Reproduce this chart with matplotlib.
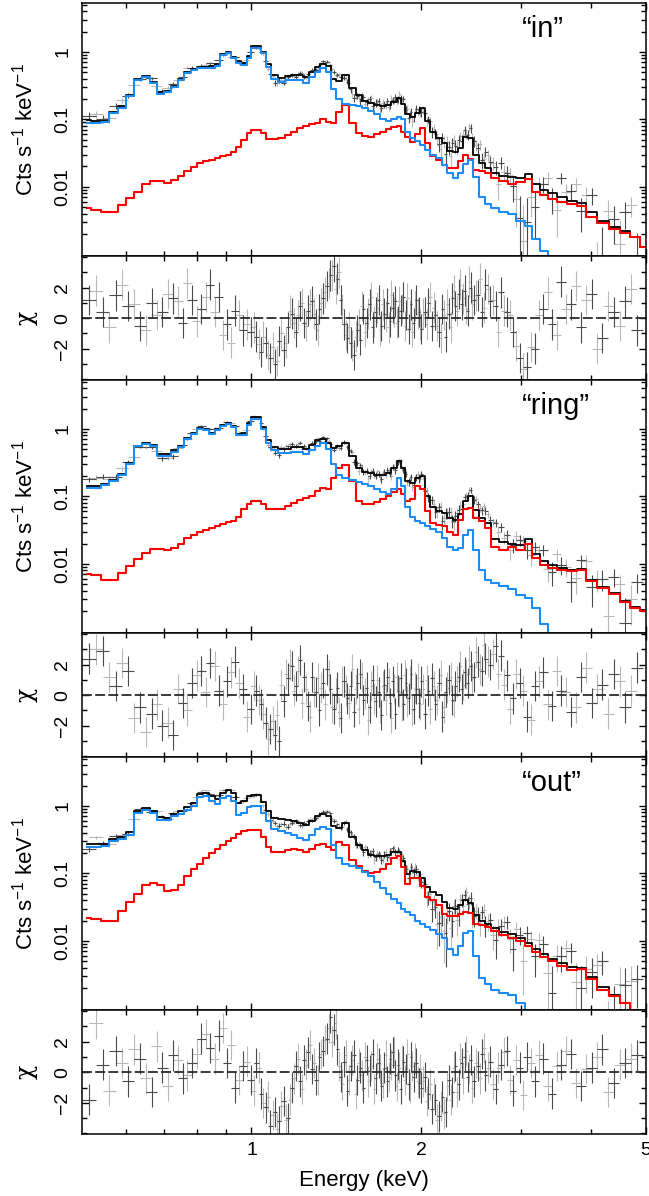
import numpy as np
import matplotlib
matplotlib.use('Agg')
import matplotlib.pyplot as plt
from matplotlib.ticker import FixedLocator, NullFormatter, LogLocator, MultipleLocator

plt.rcParams['font.family'] = ['Liberation Sans', 'DejaVu Sans']
plt.rcParams['mathtext.fontset'] = 'custom'
plt.rcParams['mathtext.rm'] = 'Liberation Sans'

# model grid (keV) (cts/s/keV)
E_MOD = [0.51, 0.53, 0.55, 0.57, 0.59, 0.61, 0.63, 0.65, 0.67, 0.69,
         0.71, 0.73, 0.75, 0.77, 0.79, 0.81, 0.83, 0.85, 0.87, 0.89,
         0.91, 0.93, 0.95, 0.97, 0.99, 1.01, 1.03, 1.05, 1.07, 1.10,
         1.13, 1.16, 1.19, 1.22, 1.25, 1.28, 1.31, 1.34, 1.37, 1.40,
         1.43, 1.47, 1.51, 1.55, 1.59, 1.63, 1.67, 1.71, 1.75, 1.79,
         1.83, 1.86, 1.89, 1.93, 1.97, 2.01, 2.05, 2.10, 2.15, 2.20,
         2.25, 2.30, 2.35, 2.40, 2.45, 2.50, 2.56, 2.62, 2.70, 2.80,
         2.90, 3.00, 3.10, 3.20, 3.30, 3.40, 3.55, 3.70, 3.85, 4.00,
         4.20, 4.40, 4.60, 4.80, 4.98]

# "in"
in_blue = [.089, .089, .090, .125, .148, .22, .38, .43, .35, .24,
           .25, .30, .38, .49, .54, .58, .58, .58, .62, .90,
           .97, .81, .68, .64, .81, 1.15, 1.15, .95, .60, .40,
           .36, .38, .385, .385, .35, .42, .50, .57, .50, .28,
           .20, .17, .164, .155, .145, .135, .12, .10, .095, .10,
           .109, .10, .065, .052, .047, .042, .035, .030, .027, .021,
           .016, .0135, .016, .022, .025, .014, .007, .0055, .0048, .0043,
           .0039, .0031, .0026, .0017, .0011, .0007, .0005, .0004, .0003, .0003,
           .0002, .0002, .0002, .0001, .0001]
in_red = [.0049, .0046, .0042, .0042, .0054, .0069, .0085, .011, .0123, .0123,
          .0114, .0126, .0146, .0173, .0198, .0226, .024, .025, .027, .029,
          .030, .033, .039, .050, .063, .070, .070, .063, .051, .051,
          .053, .059, .066, .075, .080, .085, .089, .10, .092, .089,
          .129, .164, .089, .063, .057, .055, .060, .065, .072, .077,
          .080, .065, .055, .046, .060, .075, .045, .029, .025, .021,
          .019, .019, .024, .030, .026, .018, .017, .016, .0135, .012,
          .011, .0118, .013, .0085, .0075, .0066, .0060, .0055, .0052, .0036,
          .0029, .0024, .0021, .0018, .0013]
in_tot = [.097, .095, .096, .13, .155, .23, .40, .44, .36, .255,
          .26, .315, .40, .51, .56, .60, .60, .61, .65, .93,
          1.0, .84, .72, .69, .87, 1.22, 1.22, 1.01, .65, .45,
          .41, .44, .45, .46, .43, .50, .59, .67, .61, .40,
          .37, .45, .29, .23, .19, .175, .165, .158, .165, .18,
          .21, .17, .12, .11, .125, .145, .095, .065, .052, .044,
          .034, .033, .037, .055, .053, .03, .0226, .019, .016, .0145,
          .014, .0135, .0155, .011, .009, .008, .0071, .0062, .0058, .0042,
          .0031, .0025, .0022, .0018, .0013]

# "ring"
ring_blue = [.134, .134, .146, .168, .21, .30, .55, .59, .55, .40,
             .40, .46, .53, .72, .85, 1.0, .97, .85, .95, 1.12,
             1.18, 1.05, .80, .80, 1.15, 1.42, 1.40, 1.0, .62, .48,
             .44, .44, .46, .45, .42, .48, .56, .62, .50, .30,
             .21, .19, .175, .165, .155, .14, .13, .115, .11, .13,
             .19, .14, .07, .05, .043, .040, .036, .033, .030, .024,
             .018, .016, .017, .027, .032, .016, .008, .0058, .0052, .0047,
             .0042, .0035, .0031, .0022, .0013, .0009, .0006, .0004, .0003, .0003,
             .0002, .0002, .0002, .0001, .0001]
ring_red = [.007, .0068, .0057, .0057, .0074, .0093, .0116, .0145, .0167, .0165,
            .016, .017, .0194, .024, .027, .030, .032, .034, .036, .039,
            .041, .043, .050, .064, .077, .085, .085, .077, .066, .064,
            .066, .072, .080, .088, .093, .10, .12, .134, .127, .19,
            .26, .29, .17, .085, .076, .076, .082, .09, .10, .115,
            .13, .11, .085, .09, .14, .13, .06, .04, .037, .036,
            .03, .027, .045, .065, .068, .047, .043, .034, .018, .016,
            .018, .016, .02, .012, .0095, .0088, .0082, .0078, .008, .0055,
            .0044, .0036, .0027, .0022, .002]
ring_tot = [.14, .14, .152, .175, .218, .31, .56, .61, .57, .42,
            .42, .48, .55, .74, .88, 1.03, 1.0, .88, .99, 1.16,
            1.22, 1.09, .85, .86, 1.23, 1.5, 1.48, 1.08, .69, .54,
            .51, .51, .54, .54, .51, .58, .68, .72, .62, .52,
            .56, .62, .40, .26, .23, .22, .21, .21, .22, .26,
            .33, .26, .17, .16, .19, .20, .10, .07, .06, .056,
            .047, .045, .055, .085, .10, .062, .048, .04, .023, .021,
            .02, .019, .023, .014, .011, .0097, .0088, .0081, .0083, .0057,
            .0045, .0037, .0028, .0023, .0021]

# "out"
out_blue = [.244, .25, .255, .30, .32, .37, .78, .87, .78, .62,
            .61, .70, .77, .87, 1.0, 1.35, 1.4, 1.2, 1.05, 1.3,
            1.4, 1.2, .74, .78, .95, 1.0, 1.0, .78, .59, .45,
            .42, .39, .37, .33, .31, .37, .45, .49, .46, .26,
            .17, .14, .13, .12, .105, .09, .075, .06, .05, .042,
            .036, .03, .027, .024, .02, .018, .016, .0146, .0125, .011,
            .0075, .0062, .0085, .013, .0138, .006, .0028, .0023, .0019, .0017,
            .0016, .0012, .0008, .0006, .0005, .0004, .0003, .0003, .0002, .0002,
            .0002, .0001, .0001, .0001, .0001]
out_red = [.022, .021, .0198, .020, .028, .038, .05, .067, .073, .067,
           .054, .056, .068, .09, .115, .14, .17, .20, .23, .26,
           .30, .33, .385, .42, .44, .44, .44, .35, .25, .21,
           .21, .22, .23, .22, .21, .23, .26, .27, .25, .22,
           .29, .26, .16, .13, .11, .10, .105, .115, .14, .17,
           .18, .125, .07, .085, .085, .065, .045, .04, .034, .025,
           .023, .023, .025, .027, .026, .018, .017, .016, .014, .012,
           .011, .0098, .0085, .0068, .0058, .005, .0043, .0037, .0038, .0027,
           .0019, .0015, .0012, .0009, .0007]
out_tot = [.27, .27, .275, .32, .35, .41, .83, .94, .85, .69,
           .66, .76, .84, .96, 1.12, 1.5, 1.57, 1.4, 1.28, 1.56,
           1.7, 1.53, 1.12, 1.2, 1.39, 1.45, 1.45, 1.13, .84, .66,
           .63, .61, .60, .55, .52, .60, .71, .76, .71, .50,
           .47, .55, .35, .26, .22, .19, .18, .18, .19, .21,
           .21, .155, .097, .11, .105, .085, .062, .053, .047, .038,
           .031, .03, .034, .04, .036, .024, .0195, .018, .0156, .0137,
           .0126, .011, .0093, .0075, .0063, .0054, .0047, .0041, .004, .0029,
           .0021, .0016, .0012, .0009, .0007]

# data bin centres (keV) of the two instruments
E_DARK = [0.515, 0.545, 0.575, 0.605, 0.635, 0.665, 0.695, 0.725, 0.755, 0.785, 0.815, 0.845, 0.875, 0.905, 0.935, 0.965,
          1.00, 1.02, 1.04, 1.06, 1.08, 1.10, 1.12, 1.14, 1.16, 1.18, 1.20, 1.22, 1.24, 1.26, 1.28, 1.30, 1.32, 1.34, 1.36, 1.38, 1.40, 1.42, 1.44, 1.46, 1.48,
          1.50, 1.52, 1.54, 1.56, 1.58, 1.60, 1.62, 1.64, 1.66, 1.68, 1.70, 1.72, 1.74, 1.76, 1.78, 1.80, 1.82, 1.84, 1.86, 1.88, 1.90, 1.92, 1.94, 1.96, 1.98,
          2.00, 2.03, 2.06, 2.09, 2.12, 2.15, 2.18, 2.21, 2.24, 2.27, 2.30, 2.33, 2.36, 2.39, 2.42, 2.45, 2.48, 2.52, 2.56, 2.60,
          2.65, 2.71, 2.77, 2.84, 2.91, 2.99, 3.08, 3.18, 3.29, 3.41, 3.54, 3.68, 3.84, 4.01, 4.19, 4.39, 4.60, 4.83]
E_LIGHT = [0.53, 0.56, 0.59, 0.62, 0.65, 0.68, 0.71, 0.74, 0.77, 0.80, 0.83, 0.86, 0.89, 0.92, 0.95, 0.98,
           1.01, 1.03, 1.05, 1.07, 1.09, 1.11, 1.13, 1.15, 1.17, 1.19, 1.21, 1.23, 1.25, 1.27, 1.29, 1.31, 1.33, 1.35, 1.37, 1.39, 1.41, 1.43, 1.45, 1.47, 1.49,
           1.51, 1.53, 1.55, 1.57, 1.59, 1.61, 1.63, 1.65, 1.67, 1.69, 1.71, 1.73, 1.75, 1.77, 1.79, 1.81, 1.83, 1.85, 1.87, 1.89, 1.91, 1.93, 1.95, 1.97, 1.99,
           2.015, 2.045, 2.075, 2.105, 2.135, 2.165, 2.195, 2.225, 2.255, 2.285, 2.315, 2.345, 2.375, 2.405, 2.435, 2.465, 2.50, 2.54, 2.58, 2.625,
           2.68, 2.74, 2.805, 2.875, 2.95, 3.035, 3.13, 3.235, 3.35, 3.475, 3.61, 3.76, 3.925, 4.10, 4.29, 4.495, 4.715]

# residuals (chi)
in_chi_dark = [1.2, 0.4, 1.5, 0.8, -0.5, 1.0, 0.4, 1.3, -0.3, 1.2, 0.6, 2.2, 1.4, -0.4, 0.5, -0.8,
               -0.9, -1.2, -2.2, -1.6, -2.6, -3.0, -1.5, -2.1, -0.6, 0.3, -0.9, 0.8, -0.3, 0.5, 1.1, -0.4, 0.6, 1.3, 2.1, 2.8, 3.4, 2.6, 1.2, -0.4, -1.3,
               -1.6, -2.4, -0.8, -1.4, 0.6, -0.3, 0.9, -0.6, 0.4, 1.2, -0.5, 0.3, 1.0, -0.2, 0.7, 1.1, -0.2, 0.5, 1.4, 0.2, -0.7, 0.9, -0.3, 1.2, 0.4,
               -0.7, 0.4, 1.0, -0.5, 0.2, -0.9, 0.6, -1.2, 0.3, 1.3, 0.8, 1.6, 0.9, 1.8, 0.5, 2.0, 1.2, 1.5, 0.4, 2.2,
               1.1, 0.8, 1.7, 0.4, -0.9, -2.6, -3.2, -2.0, 0.6, -0.4, 2.4, 0.9, -0.6, 1.6, -1.3, 0.4, 1.1, -0.8]
in_chi_light = [1.8, -0.6, 2.2, 0.9, -0.8, 0.2, 1.6, 1.1, 2.3, -0.2, 1.4, 0.4, -1.1, -1.6, 0.2, -0.4,
                -0.6, -1.7, -1.2, -2.4, -1.9, -2.8, -1.0, -1.6, 0.5, -0.3, 0.2, 1.0, -0.5, 0.9, 0.3, -0.8, 1.0, 1.7, 2.3, 2.8, 1.9, 3.0, 0.6, -1.1, -0.6,
                -1.8, -1.2, -0.4, 0.8, -0.9, 0.3, 1.4, -0.2, 0.7, -0.8, 0.9, 0.1, -0.6, 1.5, 0.4, -0.3, 1.1, 0.6, -0.5, 1.3, 0.2, -0.9, 0.8, 0.3, -0.4,
                0.3, -0.4, 1.4, 0.7, -0.5, -1.3, 0.2, 0.9, -0.6, 1.8, 0.5, 2.2, 1.3, 0.6, 2.4, 0.9, 1.5, 2.6, 0.7, 1.9,
                1.2, -0.9, 0.5, 0.2, -1.8, -3.3, -1.9, 0.2, 1.7, -1.1, 0.6, 2.1, 1.2, -2.0, 0.8, -0.5, 1.9]
ring_chi_dark = [2.4, 2.9, 0.6, 1.6, -0.8, -1.2, -2.0, -2.6, -0.5, 0.8, 1.6, 2.1, 0.3, 0.9, 2.2, 0.4,
                 -0.9, 0.3, -0.6, -1.8, -2.2, -2.6, -3.0, -0.4, 1.1, 1.9, 0.6, 2.3, 1.2, -0.7, 1.2, 0.2, -1.0, 0.8, 1.7, 0.4, -0.9, 0.5, -1.5, 0.9, -0.2,
                 0.6, -1.1, 0.8, 1.4, -0.3, 0.5, -0.8, 1.0, -0.4, 0.2, -1.3, 0.7, 1.2, -0.5, 0.9, -1.2, 0.3, 1.1, -0.6, 0.8, -0.2, 1.4, -0.9, 0.4, -0.5,
                 0.9, -1.2, 0.3, 1.1, -0.6, 0.8, -1.4, 0.2, 1.0, -0.3, 0.6, 1.2, 0.4, 1.5, 0.8, 1.9, 1.2, 2.2, 1.6, 2.4,
                 2.0, 3.2, 2.6, 1.3, -0.2, 0.8, -1.4, 0.6, 1.5, -0.7, 0.3, -1.1, 1.2, -0.5, 0.7, 1.4, -0.8, 1.8]
ring_chi_light = [3.0, 1.2, 2.1, -1.5, -2.4, -0.6, -1.8, 0.4, -1.0, 1.3, 0.2, 1.9, -0.6, 1.5, 0.8, -1.4,
                  0.6, -0.3, -1.2, -2.9, -1.7, -1.3, 0.7, 1.4, 2.0, 0.3, 1.6, -0.5, 0.4, -1.4, 0.2, 1.1, 0.5, -0.6, 1.3, -0.8, 0.1, -1.1, 0.9, 0.3, -0.5,
                  1.7, 0.4, -0.9, 1.2, 0.1, -1.6, 0.6, -0.2, 1.0, -0.8, 0.6, -0.3, 0.8, -1.5, 0.4, 1.2, 0.2, -0.7, 1.3, -0.4, 0.9, -1.0, 0.5, 1.1, -0.6,
                  0.4, 1.0, -0.9, 0.6, -0.3, 1.3, -0.8, 0.5, 1.2, -0.4, 0.9, 1.9, 0.7, 1.4, 2.3, 1.1, 2.8, 1.7, 3.3, 2.2,
                  2.7, 1.4, 0.7, -0.9, 1.4, 0.3, -1.6, 0.9, -0.6, 1.6, 0.2, -0.8, 1.8, 0.4, -1.2, 0.9, 0.3]
out_chi_dark = [-1.8, 0.5, 1.4, -0.6, 0.9, -1.3, 0.3, 1.1, -0.4, 0.6, 2.2, 1.6, 2.4, 0.6, -1.0, 0.4,
                -0.5, 0.6, -1.4, -2.3, -3.5, -2.6, -3.2, -1.9, -3.0, -1.0, 0.4, -0.6, 0.8, 1.3, 0.2, -0.5, 1.0, 1.4, 2.2, 3.6, 2.8, 1.5, -0.3, 0.7, -1.2,
                0.4, 1.1, -0.5, 0.3, -1.0, 0.8, 0.1, 1.2, -0.4, 0.6, -0.9, 0.3, -0.6, 0.9, 1.3, -0.2, 0.5, -1.1, 0.7, 0.2, -0.8, 1.0, -0.3, 0.6, -0.7,
                -1.0, -0.3, -1.4, -2.4, -1.8, -2.9, -1.6, -2.6, -0.5, -1.3, 0.4, -0.8, 0.6, 1.0, -0.3, 0.8, -0.6, 0.4, 1.2, -0.2,
                0.7, -1.1, 0.5, 1.4, -1.2, 0.3, 1.0, -0.6, 0.9, -1.4, 0.5, 1.2, -0.9, 0.3, 1.5, -0.7, 0.6, 1.1]
out_chi_light = [3.2, -1.2, 0.6, 1.5, -0.4, 1.7, -0.9, 0.8, -0.2, 1.2, 2.5, 0.9, 2.9, 1.8, -0.5, 0.7,
                 -1.2, 0.3, -2.0, -1.6, -2.8, -3.7, -2.2, -3.1, -1.8, -0.4, 0.9, -1.1, 0.5, 1.8, 0.6, -0.5, 1.2, 2.1, 2.9, 2.0, 3.2, 0.4, -0.8, 1.1, -0.5,
                 0.8, -1.4, 0.6, -0.2, 1.0, -0.6, 0.4, -1.1, 0.9, 0.2, -0.7, 1.1, -0.3, 0.5, 1.4, -0.9, 0.3, 0.8, -0.5, 1.2, -1.0, 0.4, 0.9, -0.6, 0.2,
                 -0.6, -1.9, -0.8, -1.4, -3.1, -2.2, -2.7, -0.9, -1.8, 0.3, -1.3, 0.9, -0.4, 1.4, 0.2, -1.0, 0.6, -0.4, 1.6, 0.3,
                 -0.8, 0.3, 1.3, -0.5, 0.8, -1.5, 0.6, 1.1, -0.9, 0.4, 1.4, -0.7, 0.2, 1.0, -1.3, 0.5, 0.9]

labels = ['\u201cin\u201d', '\u201cring\u201d', '\u201cout\u201d']
EXPOSURE = 20000.0  # s
BACKGROUND = 0.012  # cts/s/keV, only used for the size of the error bars

DARK = '#4a4a4a'
LIGHT = '#b8b8b8'
BLUE = '#1b8cf5'
RED = '#ff0000'


def bin_edges(e):
    e = np.asarray(e)
    mid = np.sqrt(e[:-1] * e[1:])
    lo = np.r_[e[0] ** 2 / mid[0], mid]
    hi = np.r_[mid, e[-1] ** 2 / mid[-1]]
    return lo, hi


def model_at(e, tot):
    return 10 ** np.interp(np.log10(e), np.log10(E_MOD), np.log10(tot))


def style_x(ax, show_labels):
    ax.set_xscale('log')
    ax.set_xlim(0.5, 5)
    ax.xaxis.set_major_locator(FixedLocator([1, 2, 5]))
    ax.xaxis.set_minor_locator(FixedLocator([0.6, 0.7, 0.8, 0.9, 3, 4]))
    ax.xaxis.set_minor_formatter(NullFormatter())
    if show_labels:
        ax.set_xticklabels(['1', '2', '5'])
    else:
        ax.xaxis.set_major_formatter(NullFormatter())
    ax.tick_params(which='both', direction='in', top=True, right=True, width=1.0,
                   labelsize=14)
    ax.tick_params(which='major', length=5, pad=6)
    ax.tick_params(which='minor', length=3.5)
    ax.tick_params(axis='y', labelrotation=90, pad=7.5)
    for s in ax.spines.values():
        s.set_linewidth(1.1)


fig = plt.figure(figsize=(6.49, 11.96), dpi=100)
gs = fig.add_gridspec(6, 1, height_ratios=[2.05, 1] * 3, hspace=0,
                      left=0.1259, right=0.9948, top=0.9975, bottom=0.0518)

panels = [(in_blue, in_red, in_tot, in_chi_dark, in_chi_light),
          (ring_blue, ring_red, ring_tot, ring_chi_dark, ring_chi_light),
          (out_blue, out_red, out_tot, out_chi_dark, out_chi_light)]

for k, (blue, red, tot, chi_d, chi_l) in enumerate(panels):
    ax = fig.add_subplot(gs[2 * k])
    axr = fig.add_subplot(gs[2 * k + 1])

    for e, chi, col in ((E_LIGHT, chi_l, LIGHT), (E_DARK, chi_d, DARK)):
        e = np.asarray(e)
        chi = np.asarray(chi)
        lo, hi = bin_edges(e)
        m = model_at(e, tot)
        sig = np.sqrt((m + BACKGROUND) / ((hi - lo) * EXPOSURE))
        d = m + chi * sig
        dc = np.clip(d, 1e-6, None)
        ylo = np.clip(d - sig, 1e-6, None)
        yhi = np.clip(d + sig, 1e-6, None)
        ax.errorbar(e, dc, yerr=[dc - ylo, yhi - dc], xerr=[e - lo, hi - e],
                    fmt='none', ecolor=col, elinewidth=0.8)
        axr.errorbar(e, chi, yerr=1.0, xerr=[e - lo, hi - e],
                     fmt='none', ecolor=col, elinewidth=0.8)

    ax.step(E_MOD, tot, where='mid', color='black', lw=1.3)
    ax.step(E_MOD, red, where='mid', color=RED, lw=1.5)
    ax.step(E_MOD, blue, where='mid', color=BLUE, lw=1.5)

    ax.set_yscale('log')
    ax.set_ylim(9.3e-4, 5.3)
    style_x(ax, False)
    ax.yaxis.set_major_locator(FixedLocator([0.01, 0.1, 1]))
    ax.set_yticklabels(['0.01', '0.1', '1'])
    ax.yaxis.set_minor_locator(LogLocator(base=10, subs=np.arange(2, 10), numticks=20))
    ax.yaxis.set_minor_formatter(NullFormatter())
    for t in ax.get_yticklabels():
        t.set_va('center')
    ax.set_ylabel('Cts s$^{-1}$ keV$^{-1}$', fontsize=16)
    ax.yaxis.set_label_coords(-0.078, 0.5)
    ax.text(0.781, 0.897, labels[k], transform=ax.transAxes, fontsize=21,
            ha='left', va='center')

    axr.axhline(0, color='#2a2a2a', lw=1.3, ls=(0, (5.5, 1.8)))
    axr.set_ylim(-4.05, 4.05)
    style_x(axr, k == 2)
    axr.yaxis.set_major_locator(FixedLocator([-2, 0, 2]))
    axr.set_yticklabels(['\u22122', '0', '2'])
    axr.yaxis.set_minor_locator(MultipleLocator(1))
    for t in axr.get_yticklabels():
        t.set_va('center')
    axr.set_ylabel('\u03c7', fontsize=17, family='DejaVu Serif')
    axr.yaxis.set_label_coords(-0.078, 0.5)

axr.set_xlabel('Energy (keV)', fontsize=16)
axr.xaxis.set_label_coords(0.5, -0.29)

fig.savefig('out.png', dpi=100)
